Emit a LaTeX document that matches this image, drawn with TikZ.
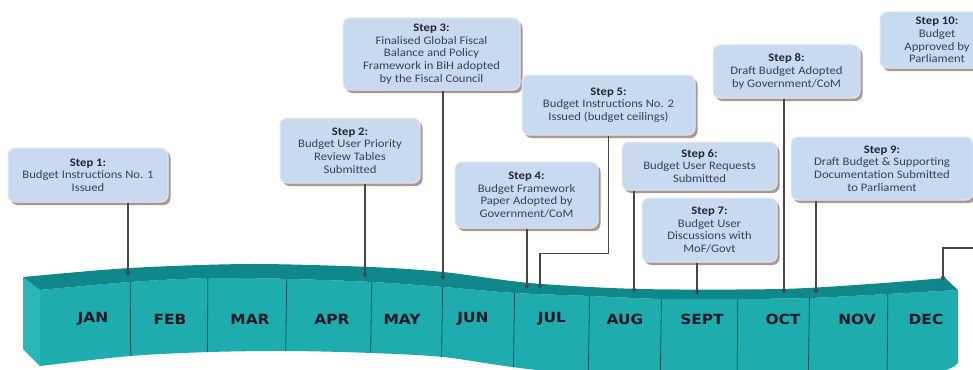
\documentclass[tikz,border=0pt]{standalone}
\usepackage{fontspec}
\setmainfont{Carlito}[FakeStretch=1.1]
\newfontfamily\monthfont{DejaVu Sans}[FakeStretch=1.1]
\usetikzlibrary{arrows.meta,shadows,calc}
\definecolor{frontc}{RGB}{30,172,175}
\definecolor{topc}{RGB}{16,135,138}
\definecolor{sidec}{RGB}{40,182,186}
\definecolor{divc}{RGB}{20,85,90}
\definecolor{boxblue}{RGB}{200,218,240}
\definecolor{boxedge}{RGB}{228,232,240}
\definecolor{shadowc}{RGB}{165,140,135}
\definecolor{boxtext}{RGB}{55,65,88}
\definecolor{headtext}{RGB}{35,38,50}
\definecolor{monthtext}{RGB}{20,25,35}
\definecolor{connc}{RGB}{70,70,75}
\begin{document}
\begin{tikzpicture}[x=1pt,y=-1pt,
  stepbox/.style={rectangle, rounded corners=7pt, fill=boxblue, draw=boxedge,
    line width=1pt, align=center, text=boxtext, inner sep=2pt,
    font=\fontsize{11.5}{12.6}\selectfont,
    drop shadow={shadow xshift=2.5pt, shadow yshift=-3pt, fill=shadowc, opacity=0.9}},
  conn/.style={draw=connc, line width=1.1pt, -{Triangle[width=5pt,length=4.5pt]}},
  month/.style={font=\monthfont\bfseries\fontsize{14}{14}\selectfont, text=monthtext},
  divider/.style={draw=divc, line width=0.8pt}
]
\useasboundingbox (0,0) rectangle (973,369);
\clip (0,0) rectangle (973,369);
\fill[white] (0,0) rectangle (973,369);

% ribbon side face
\fill[sidec] (23,277) -- (40,290) -- (40,366) -- (23,349) -- cycle;
% front face
\path[fill=frontc] plot[smooth] coordinates {(40,290) (130,282) (210,278) (290,279) (372,282) (443,287) (515,293) (590,296) (662,299) (738,299) (810,298) (888,294) (958,290)} -- (958,362) -- plot[smooth] coordinates {(958,362) (935,372) (800,382) (650,382) (520,368) (443,357) (372,353) (290,351) (210,352) (130,356) (40,366)} -- cycle;
% dividers
\begin{scope}
\clip plot[smooth] coordinates {(40,290) (130,282) (210,278) (290,279) (372,282) (443,287) (515,293) (590,296) (662,299) (738,299) (810,298) (888,294) (958,290)} -- (958,362) -- plot[smooth] coordinates {(958,362) (935,372) (800,382) (650,382) (520,368) (443,357) (372,353) (290,351) (210,352) (130,356) (40,366)} -- cycle;
\draw[divider] (130,260) -- (131,400);
\draw[divider] (208,260) -- (207,400);
\draw[divider] (287,260) -- (285,400);
\draw[divider] (372,260) -- (370,400);
\draw[divider] (443,260) -- (441,400);
\draw[divider] (515,260) -- (513,400);
\draw[divider] (590,260) -- (588,400);
\draw[divider] (662,260) -- (660,400);
\draw[divider] (738,260) -- (737,400);
\draw[divider] (810,260) -- (808,400);
\draw[divider] (888,260) -- (887,400);
\end{scope}
% top face
\path[fill=topc] plot[smooth] coordinates {(23,277) (130,268) (250,264) (370,267) (443,272) (530,283) (640,289) (780,289) (870,284) (945,278)} -- (958,290) -- plot[smooth] coordinates {(958,290) (888,294) (810,298) (738,299) (662,299) (590,296) (515,293) (443,287) (372,282) (290,279) (210,278) (130,282) (40,290)} -- cycle;

% month labels
\node[month] (jan) at (93,319) {JAN};
\node[month] (feb) at (170,319) {FEB};
\node[month] (mar) at (250,319) {MAR};
\node[month] (apr) at (332,319) {APR};
\node[month] (may) at (402,319) {MAY};
\node[month] (jun) at (473,319) {JUN};
\node[month] (jul) at (552,319) {JUL};
\node[month] (aug) at (625,319) {AUG};
\node[month] (sep) at (702,319) {SEPT};
\node[month] (oct) at (783,319) {OCT};
\node[month] (nov) at (857,319) {NOV};
\node[month] (dec) at (926,319) {DEC};

% step boxes
\node[stepbox, minimum width=160pt, minimum height=54pt] (s1) at (88,175)
  {\textbf{\color{headtext}Step 1:}\\Budget Instructions No. 1\\Issued};
\node[stepbox, minimum width=140pt, minimum height=65pt] (s2) at (350,150.5)
  {\textbf{\color{headtext}Step 2:}\\Budget User Priority\\Review Tables\\Submitted};
\node[stepbox, minimum width=177pt, minimum height=72pt] (s3) at (431.5,54)
  {\textbf{\color{headtext}Step 3:}\\Finalised Global Fiscal\\Balance and Policy\\Framework in BiH adopted\\by the Fiscal Council};
\node[stepbox, minimum width=143pt, minimum height=66pt] (s4) at (526.5,195)
  {\textbf{\color{headtext}Step 4:}\\Budget Framework\\Paper Adopted by\\Government/CoM};
\node[stepbox, minimum width=173pt, minimum height=60pt] (s5) at (608.5,105)
  {\textbf{\color{headtext}Step 5:}\\Budget Instructions No. 2\\Issued (budget ceilings)};
\node[stepbox, minimum width=155pt, minimum height=48pt] (s6) at (699.5,166)
  {\textbf{\color{headtext}Step 6:}\\Budget User Requests\\Submitted};
\node[stepbox, minimum width=135pt, minimum height=64pt] (s7) at (709.5,230)
  {\textbf{\color{headtext}Step 7:}\\Budget User\\Discussions with\\MoF/Govt};
\node[stepbox, minimum width=147pt, minimum height=53pt] (s8) at (786.5,71.5)
  {\textbf{\color{headtext}Step 8:}\\Draft Budget Adopted\\by Government/CoM};
\node[stepbox, minimum width=182pt, minimum height=63pt] (s9) at (882,168.5)
  {\textbf{\color{headtext}Step 9:}\\Draft Budget \& Supporting\\Documentation Submitted\\to Parliament};
\node[stepbox, minimum width=114pt, minimum height=56pt] (s10) at (937,40)
  {\textbf{\color{headtext}Step 10:}\\Budget\\Approved by\\Parliament};

% arrow tips on the ribbon
\coordinate (t1) at (128,276);
\coordinate (t2) at (365,278);
\coordinate (t3) at (443,280);
\coordinate (t4) at (527,289);
\coordinate (t5) at (540,289);
\coordinate (t6) at (634,293);
\coordinate (t7) at (697,295);
\coordinate (t8) at (784,294);
\coordinate (t9) at (816,294);
\coordinate (t10) at (943,281);
\coordinate (e10) at (980,248);

% connectors
\draw[conn] (s1.south -| t1) -- (t1);
\draw[conn] (s2.south -| t2) -- (t2);
\draw[conn] (s3.south -| t3) -- (t3);
\draw[conn] (s4.south -| t4) -- (t4);
\draw[conn] (s5.south) -- ++(0,118) -| (t5);
\draw[conn] (s6.south -| t6) -- (t6);
\draw[conn] (s7.south -| t7) -- (t7);
\draw[conn] (s8.south -| t8) -- (t8);
\draw[conn] (s9.south -| t9) -- (t9);
\draw[conn] (e10) -| (t10);
\end{tikzpicture}
\end{document}
